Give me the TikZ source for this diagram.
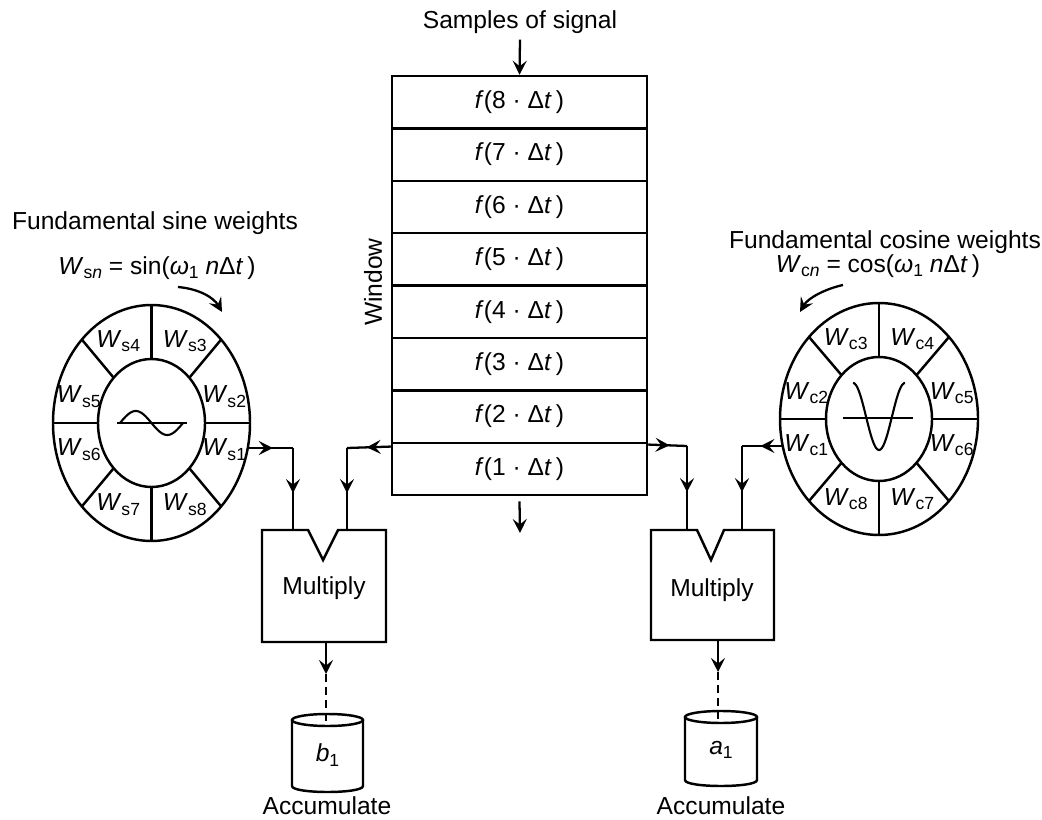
\documentclass[tikz,border=0pt]{standalone}
\usepackage{fontspec}
\setmainfont{Liberation Sans}
\usetikzlibrary{arrows.meta,decorations.markings,positioning,calc}
\newcommand{\txtsize}{\fontsize{14}{16}\selectfont}
\newcommand{\wsize}{\fontsize{14}{16}\selectfont}
\newcommand{\lowsub}[1]{\raisebox{-0.35ex}{\fontsize{10}{11}\selectfont #1}}
\newcommand{\fsamp}[1]{\textit{f}(#1 · Δ\textit{t}\,)}

\begin{document}
\begin{tikzpicture}[x=0.2mm, y=-0.2mm,
  font=\txtsize,
  cell/.style={draw, line width=1.4pt, minimum width=5.1cm, minimum height=1.048cm, inner sep=0pt},
  ring/.style={line width=1.4pt},
  wlbl/.style={font=\wsize, inner sep=0pt},
  arr/.style={-{Stealth[length=2.8mm,width=2.8mm,inset=1.1mm]}, line width=1.3pt},
  midarr/.style={line width=1.3pt, postaction={decorate},
    decoration={markings, mark=at position 0.55 with {\arrow{Stealth[length=2.8mm,width=2.8mm,inset=1.1mm]}}}},
  dline/.style={line width=1.3pt, dash pattern=on 1.6mm off 1mm},
]
  \useasboundingbox (0,0) rectangle (1042,820);

  % window of samples
  \node (samples) at (520,22) {Samples of signal};
  \foreach \k in {1,...,8}
    \node[cell] (f\k) at (519.5,{76+52.4*(8-\k)+26.2}) {\fsamp{\k}};
  \node[rotate=90] (winlbl) at (373,282) {Window};
  \draw[arr] (samples.south) -- (f8.north);
  \coordinate (wout) at (520,533);
  \draw[arr] ([yshift=-1mm]f1.south) -- (wout);

  % sine weights
  \coordinate (sc) at (151.5,423);
  \draw[ring] (sc) ellipse [x radius=98.5, y radius=118];
  \draw[ring] (sc) ellipse [x radius=53.5, y radius=64];
  \foreach \a in {0,45,...,315}
    \draw[ring] ($(sc)+({53.5*cos(\a)},{-64*sin(\a)})$) -- ($(sc)+({98.5*cos(\a)},{-118*sin(\a)})$);
  \foreach \k/\a in {1/-17,2/17,3/64,4/116,5/163,6/197,7/244,8/296}
    \node[wlbl] (ws\k) at ($(sc)+({76*cos(\a)},{-91*sin(\a)})$) {\textit{W}\lowsub{s\k}};
  \draw[line width=1.2pt] (117,423) -- (187,423);
  \draw[line width=1.2pt] plot[domain=0:360, samples=60, smooth] ({120+0.175*\x},{423-12*sin(\x)});
  \node (sinttl) at (155,223) {Fundamental sine weights};
  \node (sinfml) at (157,268) {\textit{W}\lowsub{s\textit{n}} = sin(\textit{ω}\lowsub{1} \textit{n}Δ\textit{t}\,)};
  \draw[arr] (178,287) .. controls (200,289) and (214,298) .. (222,312);

  % cosine weights
  \coordinate (cc) at (879,419);
  \draw[ring] (cc) ellipse [x radius=99, y radius=116];
  \draw[ring] (cc) ellipse [x radius=53, y radius=62];
  \foreach \a in {0,45,...,315}
    \draw[ring] ($(cc)+({53*cos(\a)},{-62*sin(\a)})$) -- ($(cc)+({99*cos(\a)},{-116*sin(\a)})$);
  \foreach \k/\a in {1/197,2/163,3/116,4/64,5/17,6/-17,7/-64,8/-116}
    \node[wlbl] (wc\k) at ($(cc)+({76*cos(\a)},{-89*sin(\a)})$) {\textit{W}\lowsub{c\k}};
  \draw[line width=1.2pt] (843,418) -- (913,418);
  \draw[line width=1.2pt] plot[domain=-180:180, samples=60, smooth] ({879+0.1444*\x},{416.5+33.5*cos(\x)});
  \node (costtl) at (885,242) {Fundamental cosine weights};
  \node (cosfml) at (878,266) {\textit{W}\lowsub{c\textit{n}} = cos(\textit{ω}\lowsub{1} \textit{n}Δ\textit{t}\,)};
  \draw[arr] (843,285) .. controls (825,289) and (808,298) .. (800,312);

  % multipliers
  \node (mulS) at (324,588) {Multiply};
  \draw[ring] (262,530) -- (308,530) -- (323,560) -- (338,530) -- (386,530)
    -- (386,642) -- (262,642) -- cycle;
  \coordinate (mulSa) at (293,530);
  \coordinate (mulSb) at (347,530);
  \node (mulC) at (712,590) {Multiply};
  \draw[ring] (651,530) -- (697,530) -- (711,560) -- (724,530) -- (774,530)
    -- (774,640) -- (651,640) -- cycle;
  \coordinate (mulCa) at (687,530);
  \coordinate (mulCb) at (742,530);

  % inputs
  \coordinate (ws1out) at (248,448);
  \coordinate (sbend) at (293,448);
  \draw[midarr] (ws1out) -- (sbend);
  \draw[midarr] (sbend) -- (mulSa);
  \coordinate (winL) at ($(f1.north west)+(0,5)$);
  \coordinate (wbendS) at (347,448);
  \draw[midarr] (winL) -- (wbendS);
  \draw[midarr] (wbendS) -- (mulSb);
  \coordinate (winR) at ($(f1.north east)+(0,3)$);
  \coordinate (wbendC) at (687,446);
  \draw[midarr] (winR) -- (wbendC);
  \draw[midarr] (wbendC) -- (mulCa);
  \coordinate (wc1out) at (783,446);
  \coordinate (cbend) at (742,446);
  \draw[midarr] (wc1out) -- (cbend);
  \draw[midarr] (cbend) -- (mulCb);

  % accumulators
  \draw[ring] (292,720) -- (292,786) .. controls (292,794) and (363,794) .. (363,786) -- (363,720);
  \draw[ring] (327.5,720) ellipse [x radius=35.5, y radius=6];
  \node (accS) at (327.5,755) {\textit{b}\lowsub{1}};
  \node (accSlbl) at (327,806) {Accumulate};
  \coordinate (mulSo) at (326,642);
  \coordinate (mulSd) at (326,674);
  \coordinate (accStop) at (326,724);
  \draw[arr] (mulSo) -- (mulSd);
  \draw[dline] (mulSd) -- (accStop);

  \draw[ring] (685,717) -- (685,780) .. controls (685,788) and (757,788) .. (757,780) -- (757,717);
  \draw[ring] (721,717) ellipse [x radius=36, y radius=6];
  \node (accC) at (721,750) {\textit{a}\lowsub{1}};
  \node (accClbl) at (721,806) {Accumulate};
  \coordinate (mulCo) at (718,640);
  \coordinate (mulCd) at (718,672);
  \coordinate (accCtop) at (718,721);
  \draw[arr] (mulCo) -- (mulCd);
  \draw[dline] (mulCd) -- (accCtop);
\end{tikzpicture}
\end{document}
